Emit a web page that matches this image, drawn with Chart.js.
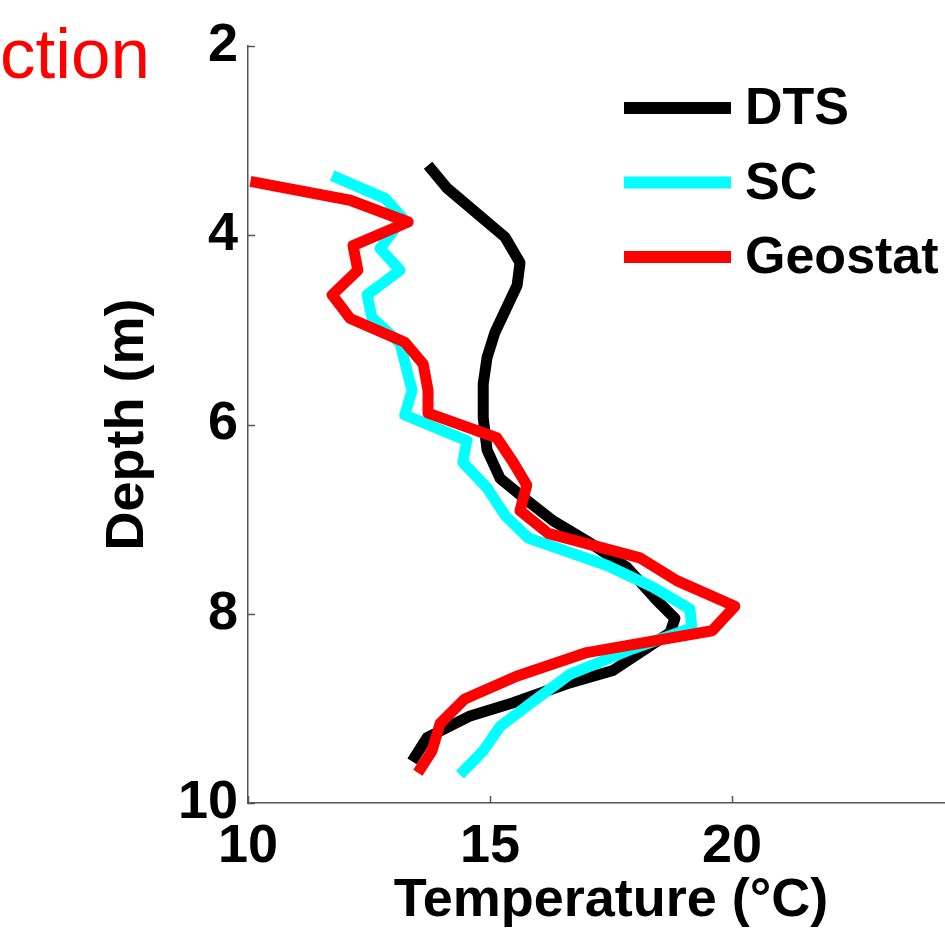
<!DOCTYPE html>
<html>
<head>
<meta charset="utf-8">
<script src="https://cdn.jsdelivr.net/npm/chart.js@4"></script>
<style>
    html, body { margin: 0; padding: 0; background: #fff; overflow: hidden; width: 945px; height: 934px; }
    #wrap { position: relative; width: 945px; height: 934px; overflow: hidden; }
    #tempChart { position: absolute; left: 0; top: 0; }
    #title {
        position: absolute; left: 0; top: 12px; width: 142px; text-align: right;
        font-family: "Liberation Sans", Arial, sans-serif; font-size: 71px; color: #ff0000;
        line-height: 84px; white-space: nowrap;
    }
</style>
</head>
<body>
<div id="wrap">
    <div id="title">ction</div>
    <canvas id="tempChart" width="1100" height="934"></canvas>
</div>
<script>
    // 깊이별 온도 프로파일 (값은 그림에서 읽음)
    const dtsTemp  = [13.72, 14.11, 15.31, 15.62, 15.56, 15.10, 14.94, 14.86, 14.86, 14.94, 15.21, 15.76, 16.31, 17.00, 17.83, 18.45, 18.82, 18.72, 17.54, 16.59, 15.48, 14.59, 13.70, 13.39];
    const dtsDepth = [3.26, 3.50, 4.02, 4.29, 4.53, 5.03, 5.29, 5.57, 5.93, 6.27, 6.57, 6.80, 7.02, 7.23, 7.51, 7.86, 8.05, 8.20, 8.60, 8.74, 8.94, 9.08, 9.31, 9.56];

    const scTemp  = [11.74, 12.83, 13.20, 12.73, 13.14, 12.46, 12.56, 13.14, 13.39, 13.24, 14.52, 14.44, 14.94, 15.31, 15.79, 17.42, 18.37, 19.13, 19.17, 17.95, 16.65, 15.83, 15.21, 14.86, 14.38];
    const scDepth = [3.37, 3.61, 3.82, 4.14, 4.37, 4.63, 4.87, 5.14, 5.64, 5.90, 6.17, 6.40, 6.67, 6.96, 7.20, 7.49, 7.72, 7.95, 8.15, 8.37, 8.64, 8.95, 9.19, 9.45, 9.70];

    const geoTemp  = [10.05, 12.11, 13.31, 12.17, 12.27, 11.74, 12.11, 13.24, 13.62, 13.72, 13.72, 15.14, 15.48, 15.76, 15.62, 16.20, 18.10, 18.86, 20.06, 19.59, 17.00, 15.55, 14.48, 13.97, 13.80, 13.51];
    const geoDepth = [3.43, 3.63, 3.86, 4.11, 4.37, 4.63, 4.88, 5.13, 5.36, 5.64, 5.88, 6.14, 6.40, 6.64, 6.91, 7.15, 7.41, 7.65, 7.92, 8.18, 8.41, 8.66, 8.90, 9.16, 9.45, 9.68];

    const tempTicks  = [10, 15, 20, 25];
    const depthTicks = [2, 4, 6, 8, 10];

    const seriesNames  = ['DTS', 'SC', 'Geostat'];
    const seriesColors = ['#000000', '#00ffff', '#ff0000'];

    const FONT = '"Liberation Sans", Arial, sans-serif';
    const AXIS_COLOR = '#555555';

    function toPoints(temps, depths) {
        return temps.map((t, i) => ({ x: t, y: depths[i] }));
    }

    // 안쪽으로 향하는 눈금 (MATLAB 스타일)
    const innerTicks = {
        id: 'innerTicks',
        afterDraw(chart) {
            const ctx = chart.ctx;
            const xs = chart.scales.x, ys = chart.scales.y;
            const area = chart.chartArea;
            ctx.save();
            ctx.strokeStyle = AXIS_COLOR;
            ctx.lineWidth = 1.5;
            ctx.beginPath();
            xs.ticks.forEach(t => {
                const px = Math.round(xs.getPixelForValue(t.value)) + 0.5;
                ctx.moveTo(px, area.bottom);
                ctx.lineTo(px, area.bottom - 7);
            });
            ys.ticks.forEach(t => {
                const py = Math.round(ys.getPixelForValue(t.value)) + 0.5;
                ctx.moveTo(area.left, py);
                ctx.lineTo(area.left + 7, py);
            });
            ctx.stroke();
            ctx.restore();
        }
    };

    // 범례: 선 + 라벨, 오른쪽 위
    const lineLegend = {
        id: 'lineLegend',
        afterDraw(chart) {
            const ctx = chart.ctx;
            ctx.save();
            ctx.font = 'bold 52px ' + FONT;
            ctx.textBaseline = 'middle';
            ctx.textAlign = 'left';
            seriesNames.forEach((name, i) => {
                const y = 108 + i * 74.5;
                ctx.strokeStyle = seriesColors[i];
                ctx.lineWidth = 12;
                ctx.lineCap = 'butt';
                ctx.beginPath();
                ctx.moveTo(624, y);
                ctx.lineTo(731, y);
                ctx.stroke();
                ctx.fillStyle = '#000';
                ctx.fillText(name, 745, y + 2);
            });
            ctx.restore();
        }
    };

    const ctx = document.getElementById('tempChart').getContext('2d');
    new Chart(ctx, {
        type: 'scatter',
        data: {
            datasets: [
                { label: seriesNames[0], data: toPoints(dtsTemp, dtsDepth), borderColor: seriesColors[0], order: 3 },
                { label: seriesNames[1], data: toPoints(scTemp, scDepth), borderColor: seriesColors[1], order: 2 },
                { label: seriesNames[2], data: toPoints(geoTemp, geoDepth), borderColor: seriesColors[2], order: 1 }
            ].map(ds => Object.assign(ds, {
                showLine: true,
                borderWidth: 11,
                borderJoinStyle: 'round',
                borderCapStyle: 'butt',
                pointRadius: 0,
                tension: 0,
                fill: false
            }))
        },
        plugins: [innerTicks, lineLegend],
        options: {
            responsive: false,
            animation: false,
            events: [],
            layout: { padding: { left: 0, top: 46, right: 126, bottom: 0 } },
            scales: {
                x: {
                    type: 'linear',
                    min: 10, max: 25,
                    afterBuildTicks: s => { s.ticks = tempTicks.map(v => ({ value: v })); },
                    afterFit: s => { s.height = 131; },
                    grid: { display: false, drawTicks: false },
                    border: { display: true, color: AXIS_COLOR, width: 1.5 },
                    ticks: { color: '#000', padding: 12, font: { family: FONT, size: 54, weight: 'bold', lineHeight: 1.2 } },
                    title: {
                        display: true, text: 'Temperature (°C)', color: '#000',
                        padding: { top: 0, bottom: 0 },
                        font: { family: FONT, size: 54, weight: 'bold', lineHeight: 1.2 }
                    }
                },
                y: {
                    type: 'linear',
                    reverse: true,
                    min: 2, max: 10,
                    afterBuildTicks: s => { s.ticks = depthTicks.map(v => ({ value: v })); },
                    afterFit: s => { s.width = 248; },
                    grid: { display: false, drawTicks: false },
                    border: { display: true, color: AXIS_COLOR, width: 1.5 },
                    ticks: { color: '#000', padding: 10, font: { family: FONT, size: 54, weight: 'bold', lineHeight: 1.2 } },
                    title: {
                        display: true, text: 'Depth (m)', color: '#000',
                        padding: { top: 96, bottom: 0 },
                        font: { family: FONT, size: 54, weight: 'bold', lineHeight: 1.2 }
                    }
                }
            },
            plugins: {
                legend: { display: false },
                tooltip: { enabled: false }
            }
        }
    });
</script>
</body>
</html>
